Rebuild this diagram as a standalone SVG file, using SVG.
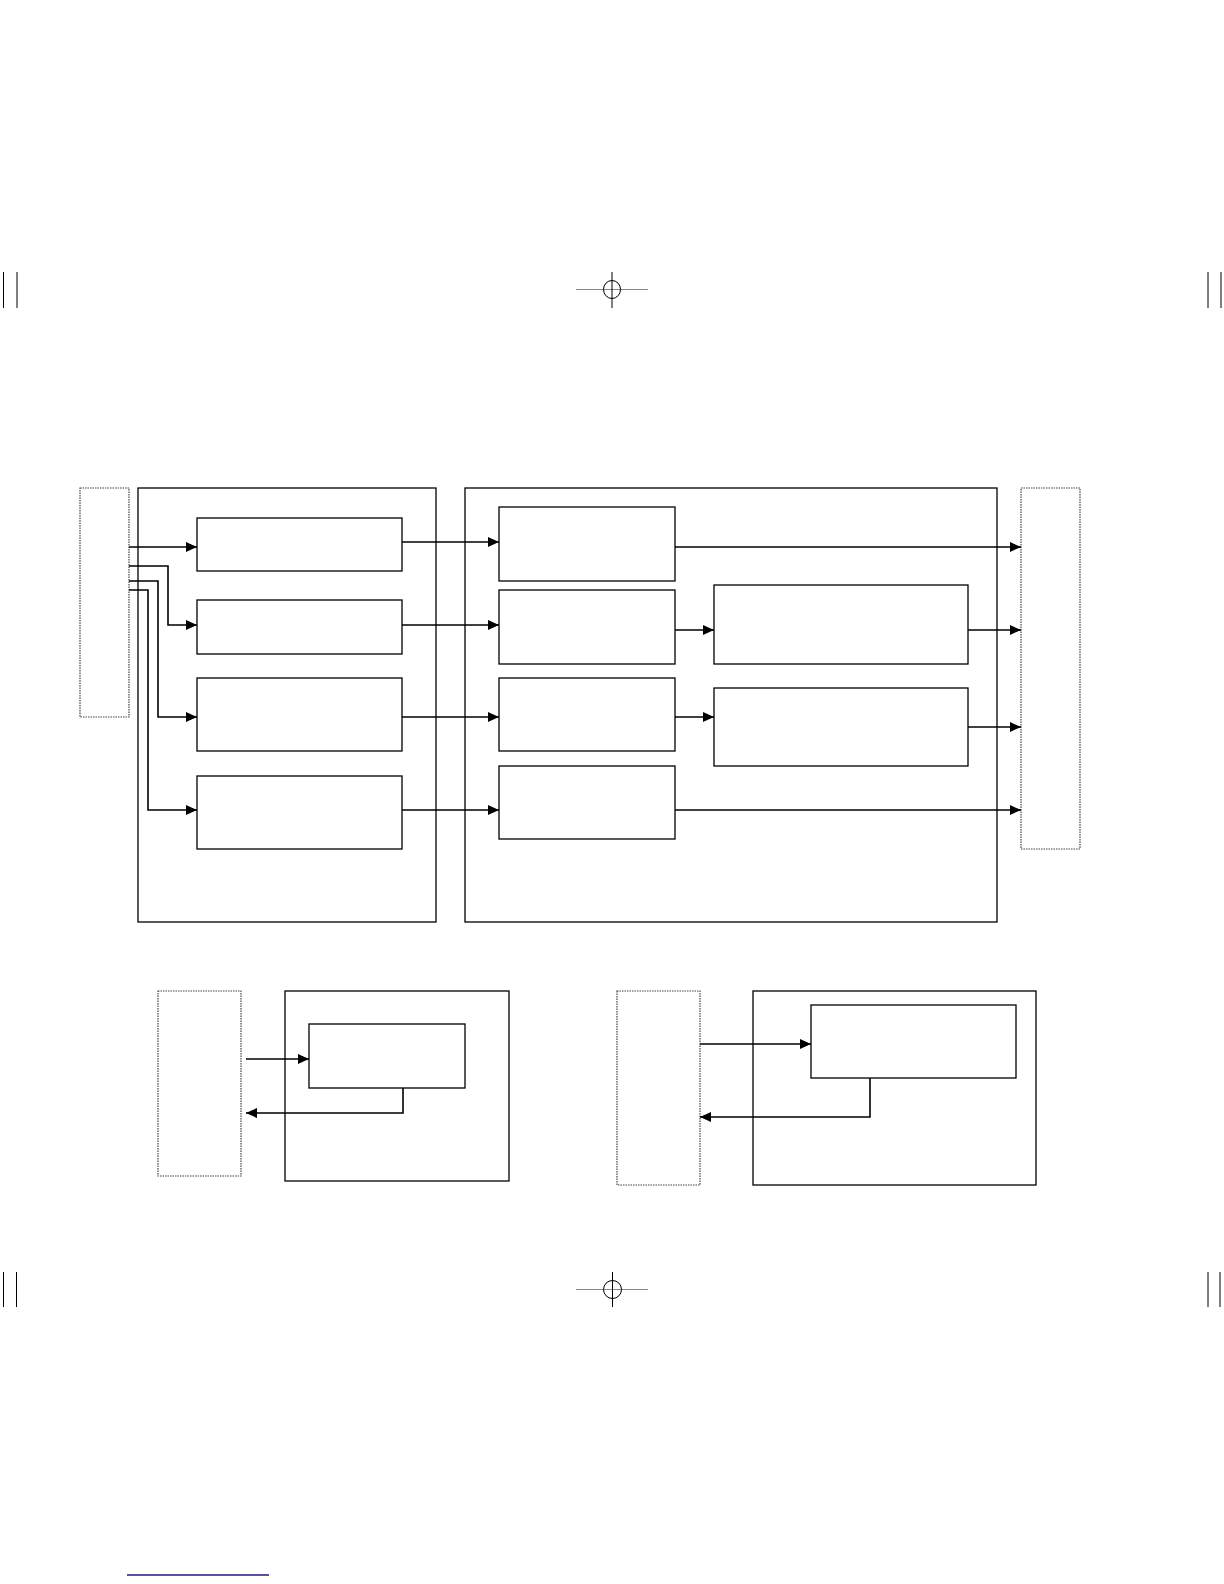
<svg xmlns="http://www.w3.org/2000/svg" width="1224" height="1584" viewBox="0 0 1224 1584">
<style>
.box{fill:#fff;stroke:#000;stroke-width:1.3}
.dash{fill:#fff;stroke:#444;stroke-width:1.2;stroke-dasharray:1.5,1}
.wire{fill:none;stroke:#000;stroke-width:1.6}
.reg{fill:none;stroke:#000;stroke-width:1}
.regg{fill:none;stroke:#888;stroke-width:1.2}
</style>
<defs>
<marker id="ah" markerUnits="userSpaceOnUse" markerWidth="12" markerHeight="10" refX="11" refY="5" orient="auto">
<path d="M0,0 L11,5 L0,10 z" fill="#000"/>
</marker>
</defs>
<rect width="1224" height="1584" fill="#fff"/>
<g id="registration">
<line class="reg" x1="3.5" y1="272" x2="3.5" y2="308"/>
<line class="reg" x1="17" y1="272" x2="17" y2="308"/>
<line class="reg" x1="1208" y1="272" x2="1208" y2="308"/>
<line class="reg" x1="1221" y1="272" x2="1221" y2="308"/>
<line class="regg" x1="576" y1="289.5" x2="648" y2="289.5"/>
<line class="reg" x1="612" y1="272" x2="612" y2="308"/>
<ellipse class="reg" cx="612" cy="289.5" rx="8.5" ry="9"/>
<line class="reg" x1="3.5" y1="1272" x2="3.5" y2="1307"/>
<line class="reg" x1="16.5" y1="1272" x2="16.5" y2="1307"/>
<line class="reg" x1="1208" y1="1272" x2="1208" y2="1307"/>
<line class="reg" x1="1220" y1="1272" x2="1220" y2="1307"/>
<line class="regg" x1="576" y1="1289.5" x2="648" y2="1289.5"/>
<line class="reg" x1="612.5" y1="1272" x2="612.5" y2="1307"/>
<ellipse class="reg" cx="612.5" cy="1289.5" rx="9" ry="9"/>
<line x1="127" y1="1575" x2="269" y2="1575" stroke="#1a1a80" stroke-width="1.3"/>
</g>
<g id="source-top"><rect class="dash" x="80" y="488" width="49" height="229"/></g>
<g id="group-left"><rect class="box" x="138" y="488" width="298" height="434"/></g>
<g id="group-right"><rect class="box" x="465" y="488" width="532" height="434"/></g>
<g id="sink-top"><rect class="dash" x="1021" y="488" width="59" height="361"/></g>
<g id="box-a"><rect class="box" x="197" y="518" width="205" height="53"/></g>
<g id="box-b"><rect class="box" x="197" y="600" width="205" height="54"/></g>
<g id="box-c"><rect class="box" x="197" y="678" width="205" height="73"/></g>
<g id="box-d"><rect class="box" x="197" y="776" width="205" height="73"/></g>
<g id="box-m1"><rect class="box" x="499" y="507" width="176" height="74"/></g>
<g id="box-m2"><rect class="box" x="499" y="590" width="176" height="74"/></g>
<g id="box-m3"><rect class="box" x="499" y="678" width="176" height="73"/></g>
<g id="box-m4"><rect class="box" x="499" y="766" width="176" height="73"/></g>
<g id="box-r1"><rect class="box" x="714" y="585" width="254" height="79"/></g>
<g id="box-r2"><rect class="box" x="714" y="688" width="254" height="78"/></g>
<g id="source-bl"><rect class="dash" x="158" y="991" width="83" height="185"/></g>
<g id="outer-bl"><rect class="box" x="285" y="991" width="224" height="190" stroke-width="1.6"/></g>
<g id="inner-bl"><rect class="box" x="309" y="1024" width="156" height="64"/></g>
<g id="source-br"><rect class="dash" x="617" y="991" width="83" height="194"/></g>
<g id="outer-br"><rect class="box" x="753" y="991" width="283" height="194"/></g>
<g id="inner-br"><rect class="box" x="811" y="1005" width="205" height="73"/></g>
<g id="connectors">
<path class="wire" d="M129,547 H197" marker-end="url(#ah)"/>
<path class="wire" d="M129,566 H168 V625 H197" marker-end="url(#ah)"/>
<path class="wire" d="M129,581 H158 V717 H197" marker-end="url(#ah)"/>
<path class="wire" d="M129,590 H148 V810 H197" marker-end="url(#ah)"/>
<path class="wire" d="M402,542 H499" marker-end="url(#ah)"/>
<path class="wire" d="M402,625 H499" marker-end="url(#ah)"/>
<path class="wire" d="M402,717 H499" marker-end="url(#ah)"/>
<path class="wire" d="M402,810 H499" marker-end="url(#ah)"/>
<path class="wire" d="M675,547 H1021" marker-end="url(#ah)"/>
<path class="wire" d="M675,630 H714" marker-end="url(#ah)"/>
<path class="wire" d="M968,630 H1021" marker-end="url(#ah)"/>
<path class="wire" d="M675,717 H714" marker-end="url(#ah)"/>
<path class="wire" d="M968,727 H1021" marker-end="url(#ah)"/>
<path class="wire" d="M675,810 H1021" marker-end="url(#ah)"/>
<path class="wire" d="M246,1059 H309" marker-end="url(#ah)" stroke="#444"/>
<path class="wire" d="M403,1088 V1113 H246" marker-end="url(#ah)"/>
<path class="wire" d="M700,1044 H811" marker-end="url(#ah)"/>
<path class="wire" d="M870,1078 V1117 H700" marker-end="url(#ah)"/>
</g>
</svg>
